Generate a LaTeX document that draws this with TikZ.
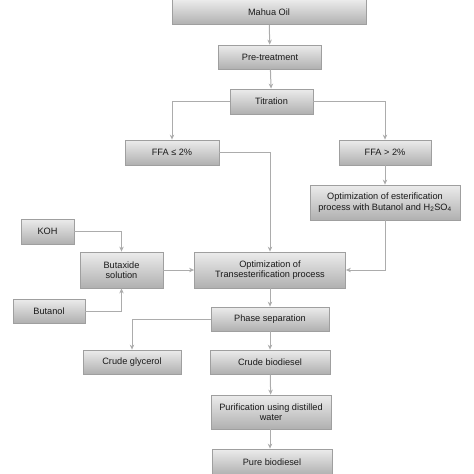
\documentclass[tikz,border=0pt]{standalone}
\usepackage{fontspec}
\setmainfont{Liberation Sans}
\usepackage{tikz}
\usetikzlibrary{arrows.meta}

\begin{document}
\begin{tikzpicture}[x=1pt,y=-1pt,>={Stealth[length=5pt,width=4.5pt]},
    every node/.style={font=\fontsize{9.2}{10.5}\selectfont,text=black!90,align=center},
    box/.style={draw=gray!75,line width=0.8pt,top color=gray!15,bottom color=gray!62,inner sep=1pt},
    line/.style={draw=gray!65,line width=1pt}]
    \useasboundingbox (0,0) rectangle (474,474);

    \node[box,minimum width=194pt,minimum height=25pt] (oil) at (269,12) {Mahua Oil};
    \node[box,minimum width=103pt,minimum height=24pt] (pre) at (270,57) {Pre-treatment};
    \node[box,minimum width=83pt,minimum height=25pt] (tit) at (271.5,101.5) {Titration};
    \node[box,minimum width=94pt,minimum height=25pt] (ffa1) at (172,152.5) {FFA ≤ 2\%};
    \node[box,minimum width=92pt,minimum height=25pt] (ffa2) at (385,152.5) {FFA > 2\%};
    \node[box,minimum width=150pt,minimum height=35pt] (est) at (385,202.5) {Optimization of esterification\\process with Butanol and H\textsubscript{2}SO\textsubscript{4}};

    \node[box,minimum width=53pt,minimum height=25pt] (koh) at (47.5,231.5) {KOH};
    \node[box,minimum width=83pt,minimum height=36pt] (but) at (121.5,270) {Butaxide\\solution};
    \node[box,minimum width=72pt,minimum height=24pt] (btl) at (49,311) {Butanol};
    \node[box,minimum width=151pt,minimum height=36pt] (trans) at (270,270) {Optimization of\\Transesterification process};

    \node[box,minimum width=118pt,minimum height=24pt] (sep) at (270,319) {Phase separation};
    \node[box,minimum width=98pt,minimum height=24pt] (gly) at (132,362) {Crude glycerol};
    \node[box,minimum width=120pt,minimum height=24pt] (crude) at (270,362) {Crude biodiesel};
    \node[box,minimum width=120pt,minimum height=34pt] (pur) at (271,412) {Purification using distilled\\water};
    \node[box,minimum width=120pt,minimum height=26pt] (pure) at (272,462) {Pure biodiesel};

    \draw[line,->] (oil)--(pre);
    \draw[line,->] (pre)--(tit);
    \draw[line,->] (tit.west)-|(ffa1.north);
    \draw[line,->] (tit.east)-|(ffa2.north);
    \draw[line,->] (ffa2)--(est);
    \draw[line,->] (ffa1.east)-|(trans.north);
    \draw[line,->] (est.south)|-(trans.east);

    \draw[line,->] (koh.east)-|(but.north);
    \draw[line,->] (btl.east)-|(but.south);
    \draw[line,->] (but)--(trans);

    \draw[line,->] (trans)--(sep);
    \draw[line,->] (sep.west)-|(gly.north);
    \draw[line,->] (sep)--(crude);
    \draw[line,->] (crude)--(pur);
    \draw[line,->] (pur.south-|crude.south)--(pure.north-|crude.south);
\end{tikzpicture}
\end{document}
